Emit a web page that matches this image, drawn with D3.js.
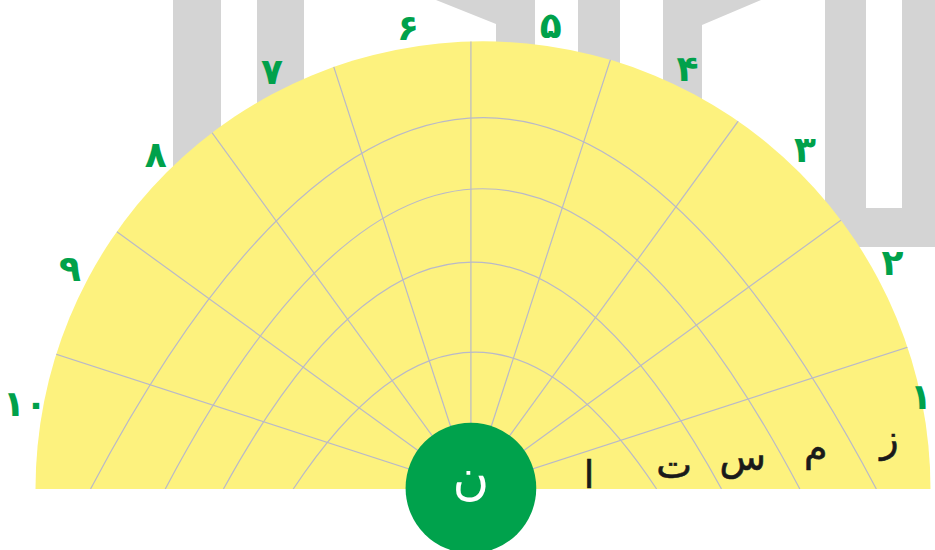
<!DOCTYPE html>
<html>
<head>
<meta charset="utf-8">
<script src="https://cdn.jsdelivr.net/npm/d3@7/dist/d3.min.js"></script>
<style>
html,body{margin:0;padding:0;background:#fff;}
svg{display:block;}
</style>
</head>
<body>
<svg id="chart" width="935" height="550"></svg>
<script>
// ---------- data ----------
const sectorLabels = ['۱','۲','۳','۴','۵','۶','۷','۸','۹','۱۰'];
const hubLabel = 'ن';
const ringLetters = ['ا','ت','س','م','ز'];
// ring curves (chart units: horizontal -100..100, vertical 0..100)
const ringLeft  = [-42.4, -58.0, -71.0, -87.7];
const ringRight = [ 38.8,  53.3,  70.8,  87.9];
const ringTop   = [ 30.6,  50.7,  67.1,  83.0];
const outerRadius = 100;
const hubRadius = 14.6;
const hubOffset = -2.7;

// ---------- layout ----------
const W = 935, H = 550;
const svg = d3.select('#chart');
const x = d3.scaleLinear().domain([-100, 100]).range([35.5, 930.5]);
const y = d3.scaleLinear().domain([0, 100]).range([489, 41.5]);
const unit = x(1) - x(0);
const angle = d3.scaleLinear().domain([0, sectorLabels.length]).range([0, Math.PI]);
const labelAngle = d3.scaleLinear().domain([0, sectorLabels.length - 1])
  .range([11.4 * Math.PI / 180, 169.5 * Math.PI / 180]);

const C = [x(0), y(0)];
const R = outerRadius * unit;
const O = [x(hubOffset), y(0)];
const hubR = hubRadius * unit;

// background decoration (grey block letters)
const grey = '#d4d4d4';
const deco = [
  [[173,0],[221,0],[221,320],[173,320]],
  [[257,0],[304,0],[304,320],[257,320]],
  [[436,0],[535,0],[535,320],[496,320],[496,24]],
  [[578,0],[620,0],[620,320],[578,320]],
  [[663,0],[761,0],[702,25],[702,320],[663,320]],
  [[825,0],[866,0],[866,208],[902,208],[902,0],[935,0],[935,247],[825,247]]
];
svg.append('g').selectAll('path').data(deco).join('path')
  .attr('d', d => d3.line()(d) + 'Z')
  .attr('fill', grey);

// yellow half disc
const half = d3.path();
half.moveTo(C[0] - R, C[1]);
half.arc(C[0], C[1], R, Math.PI, 2 * Math.PI, false);
half.closePath();
const halfD = half.toString();

svg.append('defs').append('clipPath').attr('id', 'fan')
  .append('path').attr('d', halfD);

svg.append('path').attr('d', halfD).attr('fill', '#fdf27e');

const gridColor = '#b9b9c8';

// ring curves (parabolic)
const rings = d3.range(ringTop.length).map(i => ({L: ringLeft[i], Rr: ringRight[i], T: ringTop[i]}));
svg.append('g').attr('clip-path', 'url(#fan)').selectAll('path').data(rings).join('path')
  .attr('d', d => {
    const p = d3.path();
    p.moveTo(x(d.L), y(0));
    p.quadraticCurveTo(x((d.L + d.Rr) / 2), y(2 * d.T), x(d.Rr), y(0));
    return p.toString();
  })
  .attr('fill', 'none').attr('stroke', gridColor).attr('stroke-width', 1.2);

// spokes
const spokes = d3.range(1, sectorLabels.length);
svg.append('g').attr('clip-path', 'url(#fan)').selectAll('line').data(spokes).join('line')
  .attr('x1', O[0]).attr('y1', O[1])
  .attr('x2', i => O[0] + 700 * Math.cos(angle(i)))
  .attr('y2', i => O[1] - 700 * Math.sin(angle(i)))
  .attr('stroke', gridColor).attr('stroke-width', 1.2);

// distance from O to outer edge along direction a
function edgeT(a) {
  const d = [Math.cos(a), -Math.sin(a)];
  const f = [O[0] - C[0], O[1] - C[1]];
  const b = f[0] * d[0] + f[1] * d[1];
  const c = f[0] * f[0] + f[1] * f[1] - R * R;
  return -b + Math.sqrt(b * b - c);
}

// sector number labels (placed around the outer rim)
function labelPos(i) {
  const a = labelAngle(i), t = R + 20.5;
  return [C[0] + t * Math.cos(a), C[1] - t * Math.sin(a)];
}
const numLabels = svg.append('g').selectAll('text').data(sectorLabels).join('text')
  .attr('x', (d, i) => labelPos(i)[0])
  .attr('y', (d, i) => labelPos(i)[1])
  .attr('text-anchor', 'middle').attr('dominant-baseline', 'central')
  .attr('font-family', 'DejaVu Sans, sans-serif').attr('font-weight', 'bold')
  .attr('font-size', 36).attr('fill', '#00a14b')
  .text(d => d);
// keep labels inside the frame
numLabels.each(function (d, i) {
  const bb = this.getBBox();
  let cx = labelPos(i)[0];
  const hw = bb.width / 2 + 3;
  cx = Math.max(hw, Math.min(W - hw, cx));
  d3.select(this).attr('x', cx);
});

// ring letters along a shallow ray
const letterAngle = 6.8 * Math.PI / 180;
function insideRing(r, px, py) {
  const xl = x(r.L), xr = x(r.Rr), xc = (xl + xr) / 2, hw = (xr - xl) / 2;
  const u = (px - xc) / hw;
  if (Math.abs(u) >= 1) return false;
  const h = y(0) - y(r.T);
  return py > y(0) - h * (1 - u * u);
}
function ringT(r, a) {
  let lo = hubR, hi = 600;
  for (let k = 0; k < 50; k++) {
    const m = (lo + hi) / 2;
    if (insideRing(r, O[0] + m * Math.cos(a), O[1] - m * Math.sin(a))) lo = m; else hi = m;
  }
  return lo;
}
const bounds = [hubR].concat(rings.map(r => ringT(r, letterAngle))).concat([edgeT(letterAngle)]);
svg.append('g').selectAll('text').data(ringLetters).join('text')
  .attr('x', (d, i) => O[0] + (bounds[i] + bounds[i + 1]) / 2 * Math.cos(letterAngle))
  .attr('y', (d, i) => O[1] - (bounds[i] + bounds[i + 1]) / 2 * Math.sin(letterAngle))
  .attr('text-anchor', 'middle').attr('dominant-baseline', 'central')
  .attr('font-family', 'DejaVu Sans, sans-serif')
  .attr('font-size', 38).attr('fill', '#1a1a1a')
  .attr('stroke', '#1a1a1a').attr('stroke-width', 0.6)
  .text(d => d);

// hub
svg.append('circle').attr('cx', O[0]).attr('cy', O[1] - 1).attr('r', hubR).attr('fill', '#00a24c');
svg.append('text').attr('x', O[0]).attr('y', O[1] - 12)
  .attr('text-anchor', 'middle').attr('dominant-baseline', 'central')
  .attr('font-family', 'DejaVu Sans, sans-serif')
  .attr('font-size', 50).attr('fill', '#fff')
  .text(hubLabel);
</script>
</body>
</html>
